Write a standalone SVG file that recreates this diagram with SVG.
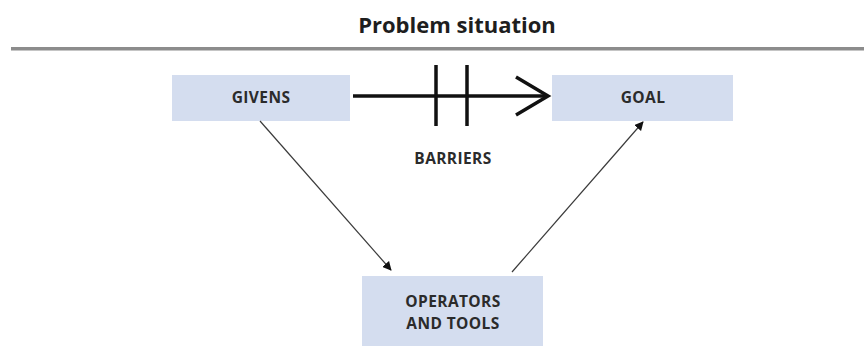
<svg xmlns="http://www.w3.org/2000/svg" width="864" height="347" viewBox="0 0 864 347">
  <style>
    .box { fill: #d4ddef; }
    .lbl { font-family: "Open Sans", "Liberation Sans", sans-serif; font-weight: bold; font-size: 15.5px; fill: #2b2b2b; text-anchor: middle; letter-spacing: 0.4px; }
    .title { font-family: "Open Sans", "Liberation Sans", sans-serif; font-weight: bold; font-size: 22px; fill: #1e1e1e; text-anchor: middle; }
    .thin { stroke: #3a3a3a; stroke-width: 1.2; fill: none; }
    .thick { stroke: #111; stroke-width: 3.5; fill: none; }
  </style>
  <defs>
    <marker id="tip" viewBox="0 0 10 10" refX="9" refY="5" markerWidth="9" markerHeight="9" markerUnits="userSpaceOnUse" orient="auto">
      <path d="M0,0 L10,5 L0,10 Z" fill="#111"/>
    </marker>
  </defs>

  <rect width="864" height="347" fill="#ffffff"/>

  <!-- heading and rule -->
  <text class="title" x="457" y="33">Problem situation</text>
  <rect x="11" y="47" width="853" height="3.5" fill="#8c8c8c"/>

  <g id="givens">
    <rect class="box" x="172" y="75" width="178" height="46"/>
    <text class="lbl" x="261" y="103">GIVENS</text>
  </g>

  <g id="goal">
    <rect class="box" x="552" y="75" width="181" height="46"/>
    <text class="lbl" x="643" y="103">GOAL</text>
  </g>

  <g id="operators">
    <rect class="box" x="362" y="276" width="181" height="70"/>
    <text class="lbl" x="453" y="307">OPERATORS</text>
    <text class="lbl" x="453" y="329">AND TOOLS</text>
  </g>

  <g id="connectors">
    <!-- blocked path from givens to goal -->
    <line class="thick" x1="353" y1="96" x2="548" y2="96"/>
    <polyline class="thick" points="516,77 548,96 516,115"/>
    <line class="thick" x1="436" y1="65" x2="436" y2="126"/>
    <line class="thick" x1="467" y1="65" x2="467" y2="126"/>
    <text class="lbl" x="453" y="164">BARRIERS</text>

    <!-- route through operators -->
    <line class="thin" x1="260" y1="121" x2="391" y2="270" marker-end="url(#tip)"/>
    <line class="thin" x1="512" y1="272" x2="643" y2="122" marker-end="url(#tip)"/>
  </g>
</svg>
